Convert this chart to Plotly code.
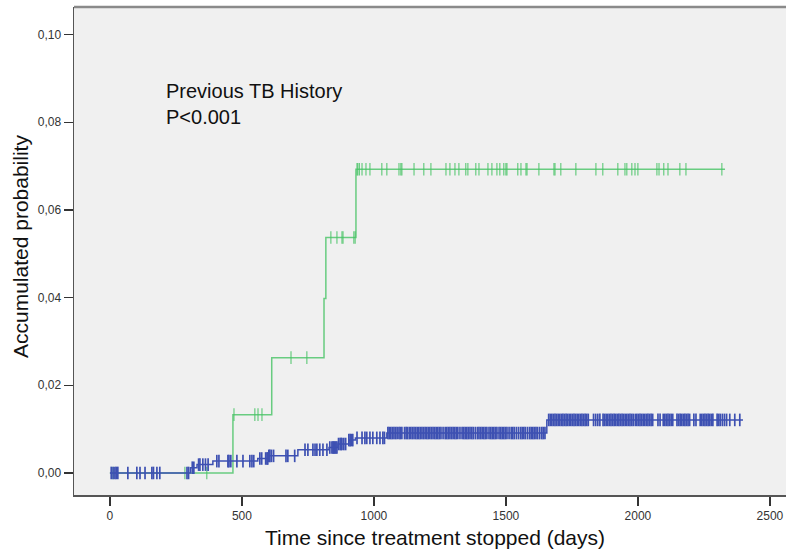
import numpy as np
import plotly.graph_objects as go

# ---- Data ----
green_times = [0, 466, 613, 811, 818, 932]
green_vals = [0.0, 0.0133, 0.0263, 0.0398, 0.0537, 0.0693]
green_end = 2330
green_censor = [12, 284, 367, 470, 549, 561, 576, 686, 746,
                837, 860, 879, 883, 924, 929,
                936, 939, 945, 955, 970, 985, 1030, 1049, 1095, 1102, 1106, 1152,
                1189, 1216, 1273, 1288, 1307, 1322, 1348, 1356, 1386, 1398, 1432,
                1447, 1466, 1477, 1492, 1500, 1504, 1545, 1557, 1576, 1580, 1625,
                1682, 1686, 1708, 1765, 1841, 1867, 1924, 1951, 1958, 1977, 1989,
                2000, 2072, 2080, 2098, 2114, 2159, 2182, 2318]

blue_times = [0, 305, 330, 390, 560, 600, 712, 830, 864, 905, 930, 1049, 1655]
blue_vals = [0.0, 0.0012, 0.0019, 0.0027, 0.0033, 0.0039, 0.0053, 0.0058,
             0.0066, 0.0075, 0.0080, 0.0091, 0.0121]
blue_end = 2398
blue_censor = [5, 12, 19, 24, 30, 68, 102, 114, 133, 159, 165, 178, 189, 292, 298,
               312, 318, 336, 341, 352, 362, 372,
               405, 413, 447, 451, 458, 481, 504, 530, 538, 545,
               568, 575, 590, 595, 598, 602, 606, 612, 620, 667, 674, 700,
               739, 750, 769, 777, 784, 795, 807, 822,
               833, 841, 845, 848, 852, 856, 860,
               866, 872, 876, 879, 886, 893, 905, 910, 915, 920,
               936, 955, 966, 973, 985, 996, 1011, 1023, 1034, 1040,
               1053, 1058, 1064, 1070, 1076, 1082, 1088, 1095, 1100, 1106, 1116, 1122,
               1127, 1134, 1140, 1146, 1152, 1158, 1164, 1170, 1176, 1182, 1188, 1194,
               1200, 1206, 1212, 1218, 1224, 1230, 1236, 1242, 1248, 1254, 1262, 1270,
               1276, 1282, 1288, 1294, 1300, 1306, 1312, 1318, 1326, 1334, 1340, 1346,
               1352, 1358, 1364, 1370, 1376, 1384, 1392, 1398, 1404, 1410, 1416, 1422,
               1428, 1436, 1442, 1448, 1454, 1460, 1466, 1474, 1480, 1486, 1492, 1498,
               1504, 1512, 1520, 1526, 1532, 1540, 1548, 1556, 1562, 1568, 1574, 1582,
               1590, 1596, 1602, 1608, 1614, 1620, 1628, 1636, 1642, 1648,
               1662, 1668, 1674, 1680, 1686, 1692, 1698, 1704, 1710, 1716, 1722, 1728,
               1734, 1740, 1746, 1752, 1758, 1764, 1770, 1776, 1782, 1788, 1794, 1800,
               1806, 1812, 1832, 1840, 1848, 1856, 1868, 1874, 1880, 1886, 1892, 1898,
               1904, 1910, 1916, 1922, 1928, 1934, 1940, 1946, 1952, 1958, 1964, 1970,
               1976, 1982, 1990, 1996, 2002, 2008, 2014, 2020, 2026, 2032, 2038, 2044,
               2050, 2056, 2076, 2084, 2096, 2102, 2108, 2114, 2120, 2126, 2132, 2148,
               2154, 2160, 2166, 2172, 2178, 2184, 2190, 2196, 2212, 2220, 2236, 2242,
               2248, 2254, 2260, 2266, 2272, 2278, 2284, 2300, 2306, 2312, 2320, 2328,
               2336, 2348, 2367, 2386]

x_ticks = [0, 500, 1000, 1500, 2000, 2500]
y_ticks = [0.00, 0.02, 0.04, 0.06, 0.08, 0.10]

annotation_lines = ["Previous TB History", "P<0.001"]
x_title = "Time since treatment stopped (days)"
y_title = "Accumulated probability"

GREEN = "rgba(70,195,100,0.8)"
BLUE = "#3d50b2"

W, H = 786, 551
L, R, T, B = 74, 0, 7, 56
PW, PH = W - L - R, H - T - B


def step_at(times, vals, t):
    idx = np.searchsorted(np.array(times), np.array(t), side="right") - 1
    return np.array(vals)[idx]


fig = go.Figure()

for times, vals, end, cens, col, mw in [
    (green_times, green_vals, green_end, green_censor, GREEN, 1.2),
    (blue_times, blue_vals, blue_end, blue_censor, BLUE, 1.7),
]:
    fig.add_trace(go.Scatter(
        x=list(times) + [end], y=list(vals) + [vals[-1]],
        mode="lines", line=dict(color=col, width=1.5, shape="hv"),
        showlegend=False, hoverinfo="skip"))
    fig.add_trace(go.Scatter(
        x=cens, y=step_at(times, vals, cens),
        mode="markers",
        marker=dict(symbol="line-ns-open", size=9, color=col,
                    line=dict(color=col, width=mw)),
        showlegend=False, hoverinfo="skip"))

FONT = "Liberation Sans, Arial, sans-serif"

fig.update_layout(
    width=W, height=H,
    margin=dict(l=L, r=R, t=T, b=B, autoexpand=False),
    paper_bgcolor="white",
    plot_bgcolor="#f0f0f0",
    separators=",.",
    font=dict(family=FONT, color="#222"),
    xaxis=dict(
        range=[-136, 2561], tickvals=x_ticks, ticks="outside", ticklen=9,
        tickwidth=1.5, tickcolor="#333", showline=True, linecolor="#555",
        linewidth=1.5, showgrid=False, zeroline=False, automargin=False,
        tickfont=dict(size=12, color="#333", family=FONT)),
    yaxis=dict(
        range=[-0.00503, 0.1063], tickvals=y_ticks, tickformat=".2f",
        ticks="outside", ticklen=9, tickwidth=1.5, tickcolor="#333",
        showline=True, linecolor="#555", linewidth=1.5, automargin=False,
        showgrid=False, zeroline=False,
        tickfont=dict(size=12, color="#333", family=FONT)),
    shapes=[dict(type="line", xref="paper", yref="paper", x0=0, x1=1, y0=1, y1=1,
                 line=dict(color="#8a8a8a", width=2.5))],
    annotations=[
        dict(text="<br>".join(annotation_lines), xref="paper", yref="paper",
             x=(164 - L) / PW, y=1 - (78 - T) / PH, xanchor="left",
             yanchor="top", align="left", showarrow=False,
             font=dict(size=20, color="#111", family=FONT)),
        dict(text=x_title, xref="paper", yref="paper",
             x=(435 - L) / PW, y=1 - (537 - T) / PH, xanchor="center",
             yanchor="middle", showarrow=False,
             font=dict(size=21, color="#111", family=FONT)),
        dict(text=y_title, xref="paper", yref="paper", textangle=-90,
             x=(20 - L) / PW, y=1 - (247 - T) / PH, xanchor="center",
             yanchor="middle", showarrow=False,
             font=dict(size=21, color="#111", family=FONT)),
    ],
)

fig.write_html("out.html",
               config={"displayModeBar": False, "staticPlot": True},
               post_script="document.body.style.margin='0';"
                           "document.body.style.overflow='hidden';")
